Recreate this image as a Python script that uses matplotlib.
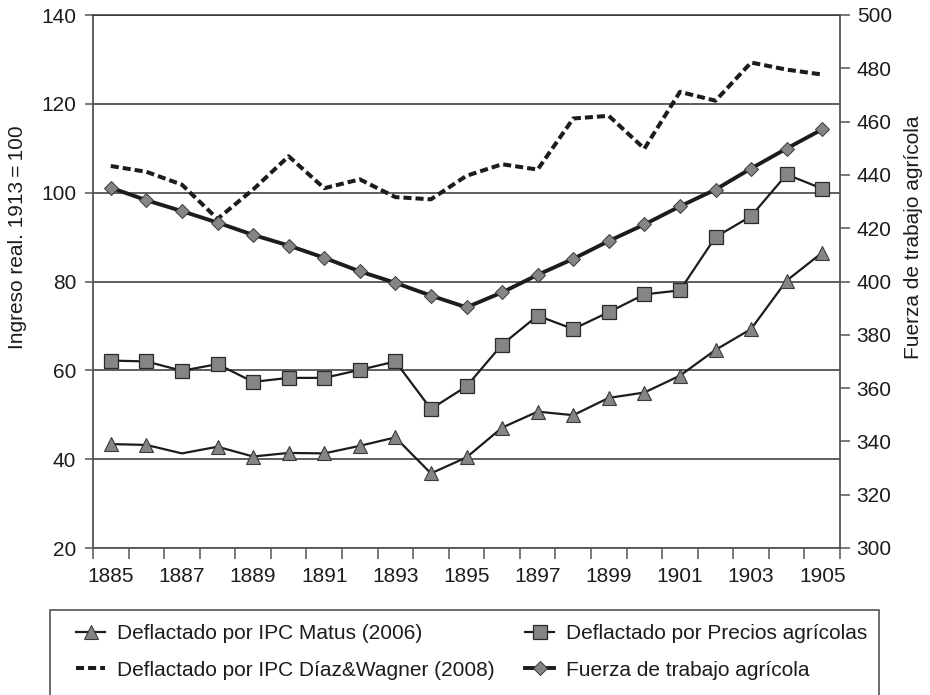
import numpy as np
import matplotlib
matplotlib.use("Agg")
import matplotlib.pyplot as plt
from matplotlib.lines import Line2D
from matplotlib.patches import Rectangle

plt.rcParams['font.family'] = ['Liberation Sans', 'DejaVu Sans']

# ---- datos ----
years = list(range(1885, 1906))
year_labels = [str(y) if (y - 1885) % 2 == 0 else '' for y in years]

ipc_matus = [43.4, 43.2, 41.3, 42.8, 40.6, 41.4, 41.3, 43.0, 44.9, 36.8, 40.4,
             47.1, 50.7, 49.9, 53.8, 55.0, 58.8, 64.6, 69.3, 80.2, 86.5]
precios_agricolas = [62.2, 62.0, 59.9, 61.4, 57.4, 58.3, 58.3, 60.1, 62.0, 51.3, 56.4,
                     65.8, 72.3, 69.3, 73.1, 77.1, 78.0, 90.0, 94.7, 104.1, 100.9]
ipc_diaz_wagner = [106.0, 104.7, 101.8, 94.1, 100.7, 108.2, 101.0, 103.0, 99.0, 98.5, 103.8,
                   106.4, 105.2, 116.7, 117.3, 109.9, 122.7, 120.7, 129.3, 127.7, 126.6]
fuerza_trabajo = [435.2, 430.5, 426.4, 422.1, 417.5, 413.5, 408.9, 403.8, 399.5, 394.7, 390.3,
                  395.9, 402.5, 408.5, 415.2, 421.4, 428.2, 434.5, 442.4, 449.9, 457.1]

# ---- estilo ----
ink = '#1c1c1c'
fill = '#858585'
axis_col = '#555555'
fs = 15

fig = plt.figure(figsize=(9.3, 6.95), dpi=100)
ax = fig.add_axes([93 / 930, 1 - 548 / 695, 747 / 930, 533 / 695])
ax2 = ax.twinx()

x = np.arange(len(years))

tri_style = dict(color=ink, lw=1.6, marker='^', ms=10.5, mfc=fill, mec='#3a3a3a', mew=0.8)
sq_style = dict(color=ink, lw=1.6, marker='s', ms=9.5, mfc=fill, mec='#2a2a2a', mew=0.9)
dash_style = dict(color=ink, lw=2.9, dashes=(2.0, 1.0), dash_capstyle='butt')
dia_style = dict(color=ink, lw=2.8, marker='D', ms=7, mfc=fill, mec='#3a3a3a', mew=0.7)

# la serie Matus no muestra marcador en 1887
ax.plot(x, ipc_matus, markevery=[i for i in range(len(x)) if i != 2], **tri_style)
ax.plot(x, precios_agricolas, **sq_style)
ax.plot(x, ipc_diaz_wagner, **dash_style)
ax2.plot(x, fuerza_trabajo, **dia_style)

# ejes
ax.set_xlim(-0.5, len(years) - 0.5)
ax.set_ylim(20, 140)
ax2.set_ylim(300, 500)
ax.set_yticks(np.arange(20, 141, 20))
ax2.set_yticks(np.arange(300, 501, 20))

ax.set_xticks(np.arange(-0.5, len(years), 1))
ax.set_xticklabels([])
ax.set_xticks(x, minor=True)
ax.set_xticklabels(year_labels, minor=True)
ax.tick_params(axis='x', which='major', length=8, width=1.1, color=axis_col, direction='out')
ax.tick_params(axis='x', which='minor', length=0, pad=14, labelsize=fs, labelcolor=ink)
ax.tick_params(axis='y', length=6, width=1.1, color=axis_col, pad=6, labelsize=fs, labelcolor=ink)
ax2.tick_params(axis='y', length=7, width=1.1, color=axis_col, pad=5, labelsize=fs, labelcolor=ink)

ax.yaxis.grid(True, color='#333333', lw=1.1)
ax.set_axisbelow(True)
for side in ['left', 'bottom']:
    ax.spines[side].set_color(axis_col)
    ax.spines[side].set_linewidth(1.3)
ax.spines['top'].set_color('#333333')
ax.spines['top'].set_linewidth(1.1)
ax.spines['right'].set_visible(False)
ax2.spines['right'].set_color(axis_col)
ax2.spines['right'].set_linewidth(1.3)
for side in ['left', 'top', 'bottom']:
    ax2.spines[side].set_visible(False)

ax.set_ylabel('Ingreso real. 1913\u2009=\u2009100', fontsize=fs, color=ink)
ax.yaxis.set_label_coords(-0.088, 0.583)
ax2.set_ylabel('Fuerza de trabajo agrícola', fontsize=fs, color=ink)
ax2.yaxis.set_label_coords(1.086, 0.583)

# leyenda en recuadro bajo el gráfico
fig.patches.append(Rectangle((50 / 930, -0.02), 829 / 930, 1 - 610 / 695 + 0.02,
                             transform=fig.transFigure, fill=False,
                             edgecolor='#444444', lw=1.1))

h_matus = Line2D([], [], **tri_style)
h_diaz = Line2D([], [], **dash_style)
h_precios = Line2D([], [], **sq_style)
h_fuerza = Line2D([], [], **dia_style)

leg_kw = dict(loc='upper left', frameon=False, fontsize=fs, borderpad=0, borderaxespad=0,
              handlelength=1.4, handletextpad=0.58, labelspacing=0.85, labelcolor=ink)
leg1 = fig.legend([h_matus, h_diaz],
                  ['Deflactado por IPC Matus (2006)', 'Deflactado por IPC Díaz&Wagner (2008)'],
                  bbox_to_anchor=(76 / 930, 1 - 624 / 695), **leg_kw)
leg2 = fig.legend([h_precios, h_fuerza],
                  ['Deflactado por Precios agrícolas', 'Fuerza de trabajo agrícola'],
                  bbox_to_anchor=(525 / 930, 1 - 624 / 695), **leg_kw)

fig.savefig('out.png', dpi=100)
